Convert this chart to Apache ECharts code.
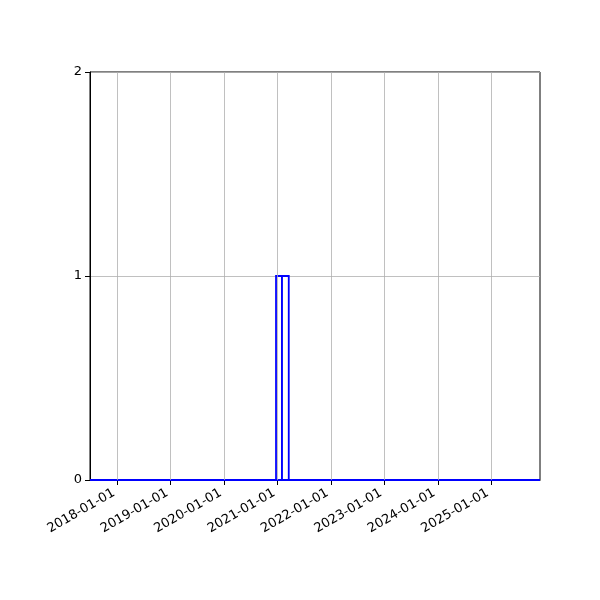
<!DOCTYPE html>
<html lang="en">
<head>
    <meta charset="UTF-8">
    <script type="text/javascript" src="https://cdn.jsdelivr.net/npm/echarts@6/dist/echarts.min.js"></script>
    <style>
        html, body { margin: 0; padding: 0; background: #fff; }
        #main { width: 600px; height: 600px; }
    </style>
</head>
<body>
    <div id="main"></div>

    <script type="text/javascript">
        // histogram bins (edges as dates) and counts
        var binStart = ['2020-12-21', '2021-01-31'];
        var binEnd = ['2021-01-31', '2021-03-18'];
        var counts = [1, 1];
        // axis range and tick labels
        var xRange = ['2017-06-28', '2025-11-30'];
        var tickDates = ['2018-01-01', '2019-01-01', '2020-01-01', '2021-01-01',
                         '2022-01-01', '2023-01-01', '2024-01-01', '2025-01-01'];
        var yTicks = [0, 1, 2];

        function t(s) {
            return new Date(s + 'T00:00:00').getTime();
        }

        var barData = [];
        for (var i = 0; i < counts.length; i++) {
            barData.push([t(binStart[i]), t(binEnd[i]), counts[i]]);
        }
        var ticks = tickDates.map(t);

        var myChart = echarts.init(document.getElementById('main'));
        var option = {
            animation: false,
            textStyle: { fontFamily: 'DejaVu Sans' },
            grid: {
                left: 90, right: 60, top: 72, bottom: 120,
                show: true, borderColor: '#000', borderWidth: 1
            },
            xAxis: {
                type: 'time',
                min: t(xRange[0]),
                max: t(xRange[1]),
                axisLine: { show: true, lineStyle: { color: '#000', width: 1 } },
                axisTick: {
                    show: true, length: 5, inside: false,
                    customValues: ticks,
                    lineStyle: { color: '#000', width: 1 }
                },
                axisLabel: {
                    customValues: ticks,
                    rotate: 30,
                    color: '#000',
                    fontSize: 13,
                    margin: 10,
                    padding: [0, 4, 0, 0],
                    formatter: '{yyyy}-{MM}-{dd}'
                },
                splitLine: { show: false }
            },
            yAxis: {
                type: 'value',
                min: yTicks[0], max: yTicks[yTicks.length - 1], interval: 1,
                axisLine: { show: true, lineStyle: { color: '#000', width: 1 } },
                axisTick: { show: true, length: 5, lineStyle: { color: '#000' } },
                axisLabel: { color: '#000', fontSize: 13, margin: 8 },
                splitLine: { show: true, lineStyle: { color: '#b0b0b0', width: 0.8 } }
            },
            series: [
                {
                    // vertical grid lines at the year ticks
                    type: 'line',
                    data: [],
                    z: 1,
                    silent: true,
                    markLine: {
                        silent: true,
                        symbol: 'none',
                        label: { show: false },
                        lineStyle: { color: '#b0b0b0', width: 0.8, type: 'solid' },
                        data: ticks.map(function (v) { return { xAxis: v }; })
                    }
                },
                {
                    type: 'custom',
                    z: 3,
                    data: barData,
                    renderItem: function (params, api) {
                        var p0 = api.coord([api.value(0), 0]);
                        var p1 = api.coord([api.value(1), api.value(2)]);
                        return {
                            type: 'rect',
                            shape: { x: p0[0], y: p1[1], width: p1[0] - p0[0], height: p0[1] - p1[1] },
                            style: { fill: '#fff', stroke: '#0000ff', lineWidth: 1.8 }
                        };
                    }
                },
                {
                    // zero-height bins along the baseline
                    type: 'line',
                    z: 4,
                    symbol: 'none',
                    data: [[t(xRange[0]), 0], [t(xRange[1]), 0]],
                    lineStyle: { color: '#0000ff', width: 1.8 }
                }
            ]
        };
        myChart.setOption(option);
    </script>
</body>
</html>
